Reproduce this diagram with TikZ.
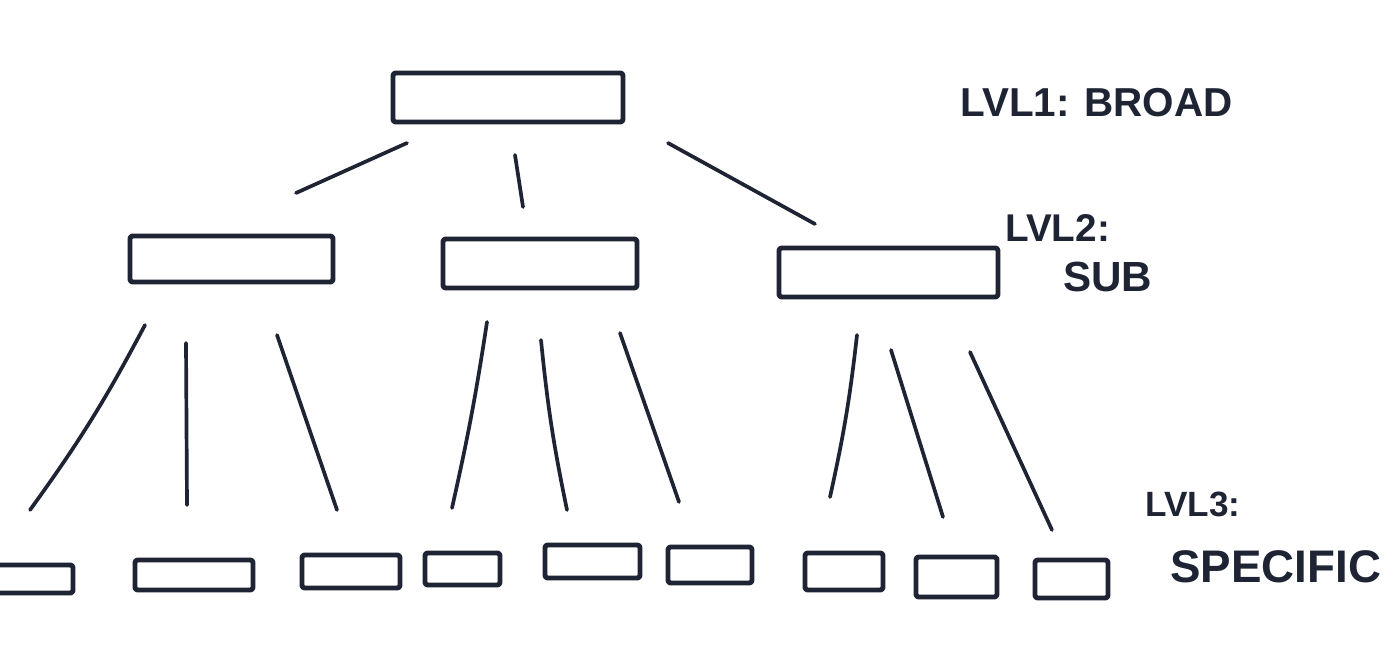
\documentclass[tikz,border=0pt]{standalone}
\usepackage{fontspec}
\setmainfont{Liberation Sans}
\usetikzlibrary{fit}
\definecolor{ink}{HTML}{1E2433}
\tikzset{
  box/.style={draw=ink, line width=2.8pt, line join=round, rounded corners=1.5pt, inner sep=0pt},
  wire/.style={draw=ink, line width=2.1pt, line cap=round},
  lbl/.style={text=ink, inner sep=0pt, anchor=north west, font=\bfseries}
}
\begin{document}
\begin{tikzpicture}[x=0.02cm, y=-0.02cm]
\useasboundingbox (0,0) rectangle (1393,658);
\fill[white] (0,0) rectangle (1393,658);
\clip (0,0) rectangle (1393,658);
% level 1
\node[box, fit={(393,73)(623,122)}] (top) {};
% level 2
\node[box, fit={(130,236)(333,282)}] (A) {};
\node[box, fit={(443,239)(637,288)}] (B) {};
\node[box, fit={(779,248)(998,297)}] (C) {};
% level 3
\node[box, fit={(-20,565)(73,593)}] (a1) {};
\node[box, fit={(135,560)(253,590)}] (a2) {};
\node[box, fit={(302,555)(400,588)}] (a3) {};
\node[box, fit={(425,553)(500,585)}] (b1) {};
\node[box, fit={(545,545)(640,578)}] (b2) {};
\node[box, fit={(668,547)(752,583)}] (b3) {};
\node[box, fit={(805,553)(883,590)}] (c1) {};
\node[box, fit={(916,557)(997,597)}] (c2) {};
\node[box, fit={(1035,560)(1108,598)}] (c3) {};
% connector ends
\coordinate (tA) at (407,143); \coordinate (At) at (296,193);
\coordinate (tB) at (515,155); \coordinate (Bt) at (523,207);
\coordinate (tC) at (668,143); \coordinate (Ct) at (815,224);
\coordinate (Aa1) at (145,325); \coordinate (a1A) at (30,510);
\coordinate (Aa2) at (186,343); \coordinate (a2A) at (187,505);
\coordinate (Aa3) at (277,335); \coordinate (a3A) at (337,510);
\coordinate (Bb1) at (487,322); \coordinate (b1B) at (452,508);
\coordinate (Bb2) at (541,340); \coordinate (b2B) at (567,510);
\coordinate (Bb3) at (620,333); \coordinate (b3B) at (679,502);
\coordinate (Cc1) at (857,335); \coordinate (c1C) at (830,497);
\coordinate (Cc2) at (891,350); \coordinate (c2C) at (943,517);
\coordinate (Cc3) at (970,352); \coordinate (c3C) at (1052,530);
\draw[wire] (tA) -- (At);
\draw[wire] (tB) -- (Bt);
\draw[wire] (tC) -- (Ct);
\draw[wire] (Aa1) to[bend left=4] (a1A);
\draw[wire] (Aa2) -- (a2A);
\draw[wire] (Aa3) -- (a3A);
\draw[wire] (Bb1) to[bend left=2] (b1B);
\draw[wire] (Bb2) to[bend right=3] (b2B);
\draw[wire] (Bb3) -- (b3B);
\draw[wire] (Cc1) to[bend left=3] (c1C);
\draw[wire] (Cc2) -- (c2C);
\draw[wire] (Cc3) -- (c3C);
% labels
\node[lbl, font=\bfseries\fontsize{23}{25}\selectfont] (l1) at (960,88) {LVL1: BROAD};
\node[lbl, font=\bfseries\fontsize{22}{24}\selectfont] (l2) at (1005,214) {LVL2:};
\node[lbl, font=\bfseries\fontsize{24}{26}\selectfont] (l2b) at (1063,262) {SUB};
\node[lbl, font=\bfseries\fontsize{20}{22}\selectfont] (l3) at (1145,492) {LVL3:};
\node[lbl, font=\bfseries\fontsize{26}{28}\selectfont] (l3b) at (1170,550) {SPECIFIC};
\end{tikzpicture}
\end{document}
